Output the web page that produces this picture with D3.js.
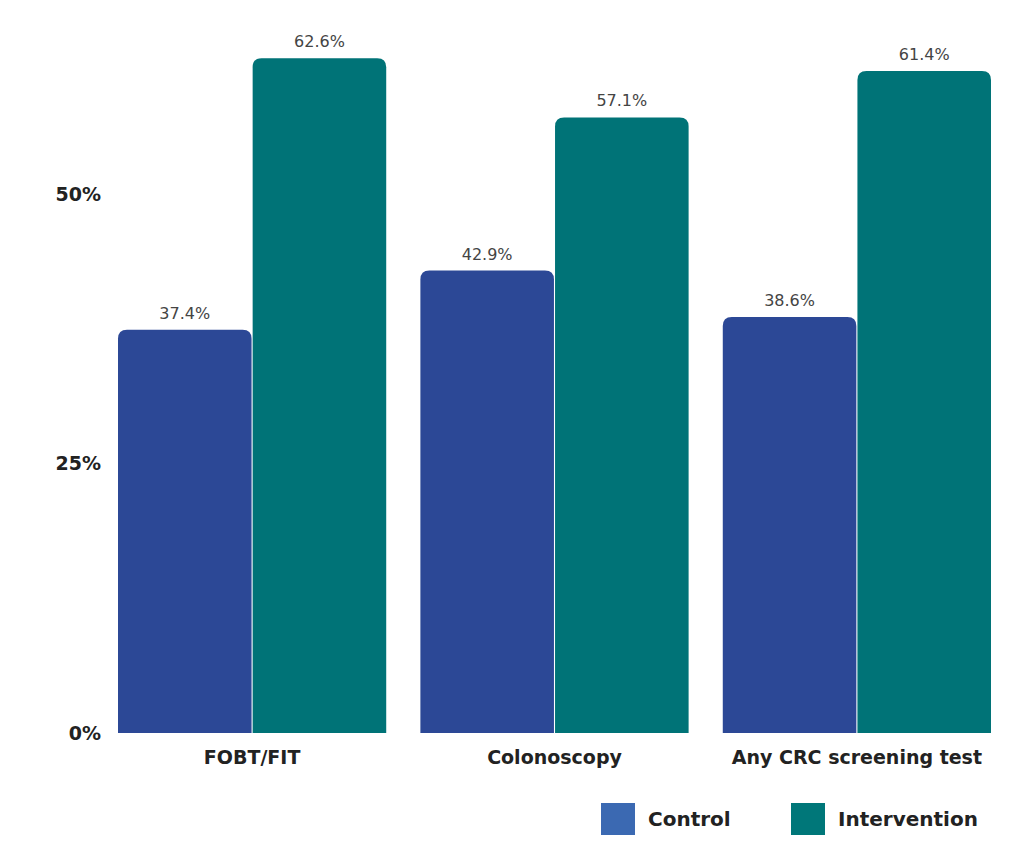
<!DOCTYPE html>
<html>
<head>
<meta charset="utf-8">
<script src="https://cdn.jsdelivr.net/npm/d3@7"></script>
<style>
  body { margin: 0; background: #fff; }
  svg text { font-family: "DejaVu Sans", "Noto Sans", sans-serif; }
</style>
</head>
<body>
<div id="chart"></div>
<script>
"use strict";

// data
var categories = ["FOBT/FIT", "Colonoscopy", "Any CRC screening test"];
var groups = ["Control", "Intervention"];
var controlValues = [37.4, 42.9, 38.6];
var interventionValues = [62.6, 57.1, 61.4];
var tickValues = [0, 25, 50];

var colors = { Control: "#2c4896", Intervention: "#007377" };
var legendColors = { Control: "#3b69b2", Intervention: "#007779" };

var width = 1019, height = 843;

var svg = d3.select("#chart").append("svg")
  .attr("width", width)
  .attr("height", height);

// scales
var x = d3.scaleBand().domain(categories).range([118, 991]).paddingInner(0.113).paddingOuter(0);
var xSub = d3.scaleBand().domain(groups).range([0, x.bandwidth()]).paddingInner(0.008);
var y = d3.scaleLinear().domain([0, 50]).range([733, 194]);

// y axis labels
var yAxis = d3.axisLeft(y).tickValues(tickValues).tickFormat(function(d) { return d + "%"; }).tickSize(0).tickPadding(0);
var yG = svg.append("g").attr("transform", "translate(101,0)").call(yAxis);
yG.select(".domain").remove();
yG.selectAll("text")
  .style("font-size", "19px")
  .style("font-weight", "bold")
  .attr("fill", "#222");

// x axis labels
var xAxis = d3.axisBottom(x).tickSize(0).tickPadding(0);
var xG = svg.append("g").attr("transform", "translate(0,750)").call(xAxis);
xG.select(".domain").remove();
xG.selectAll("text")
  .style("font-size", "19px")
  .style("font-weight", "bold")
  .attr("fill", "#222");

var rows = categories.map(function(c, i) {
  return { cat: c, values: [
    { key: "Control", value: controlValues[i] },
    { key: "Intervention", value: interventionValues[i] }
  ]};
});

// bar with rounded top corners
function barPath(x0, w, yTop, yBottom, r) {
  return "M" + x0 + "," + yBottom +
    "V" + (yTop + r) +
    "Q" + x0 + "," + yTop + " " + (x0 + r) + "," + yTop +
    "H" + (x0 + w - r) +
    "Q" + (x0 + w) + "," + yTop + " " + (x0 + w) + "," + (yTop + r) +
    "V" + yBottom + "Z";
}

var grp = svg.selectAll(".grp").data(rows).enter().append("g")
  .attr("class", "grp")
  .attr("transform", function(d) { return "translate(" + x(d.cat) + ",0)"; });

grp.selectAll("path").data(function(d) { return d.values; }).enter().append("path")
  .attr("d", function(d) { return barPath(xSub(d.key), xSub.bandwidth(), y(d.value), y(0), 9); })
  .attr("fill", function(d) { return colors[d.key]; });

grp.selectAll("text.val").data(function(d) { return d.values; }).enter().append("text")
  .attr("class", "val")
  .attr("x", function(d) { return xSub(d.key) + xSub.bandwidth() / 2; })
  .attr("y", function(d) { return y(d.value) - 11; })
  .attr("text-anchor", "middle")
  .style("font-size", "16px")
  .attr("fill", "#444")
  .text(function(d) { return d.value.toFixed(1) + "%"; });

// legend
var legendX = [601, 791];
groups.forEach(function(g, i) {
  svg.append("rect").attr("x", legendX[i]).attr("y", 803).attr("width", 34).attr("height", 32)
    .attr("fill", legendColors[g]);
  svg.append("text").attr("x", legendX[i] + 47).attr("y", 826)
    .style("font-size", "20px").style("font-weight", "bold").attr("fill", "#222")
    .text(g);
});
</script>
</body>
</html>
